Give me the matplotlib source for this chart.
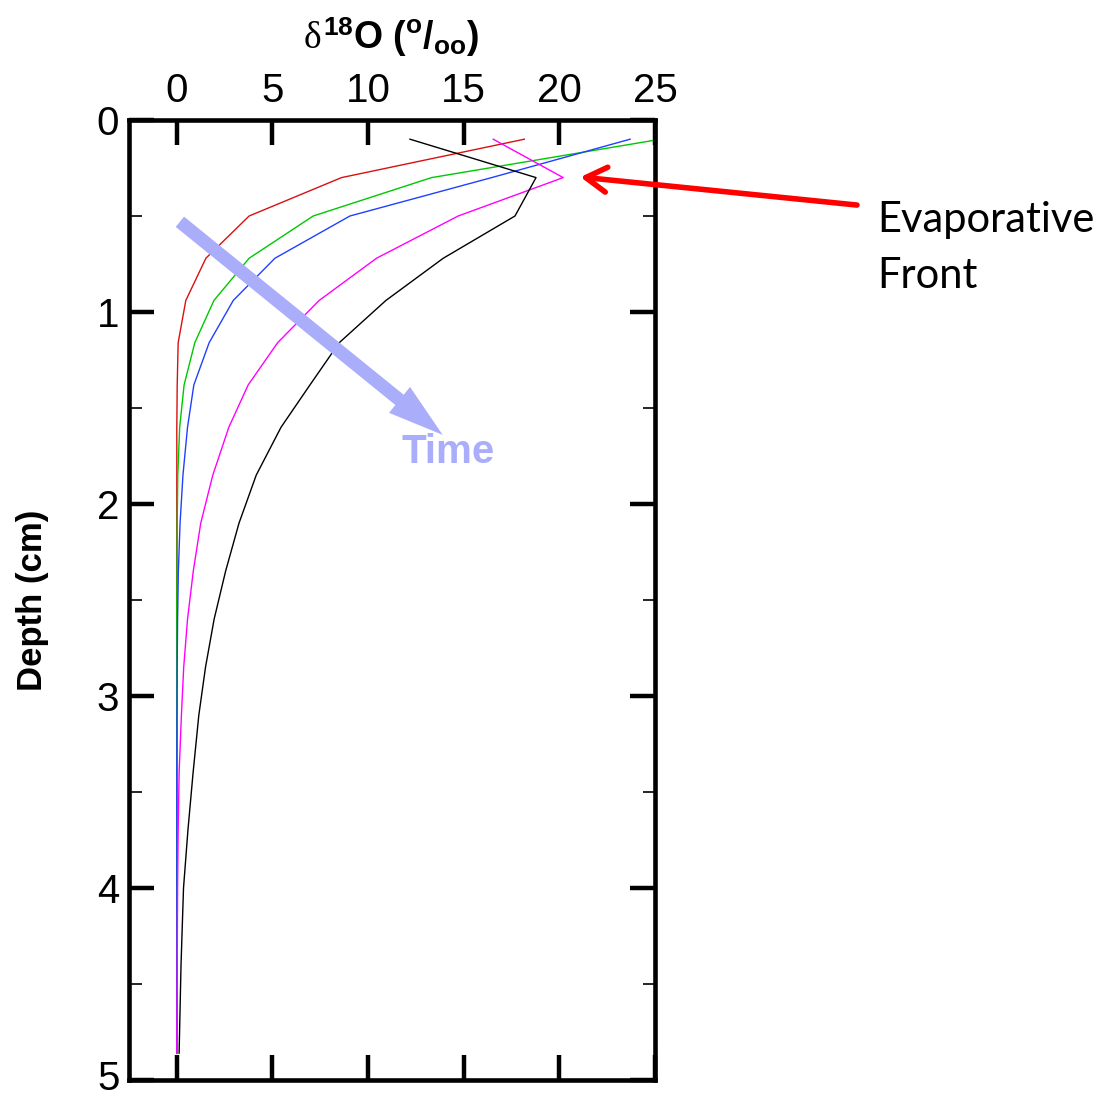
import numpy as np
import matplotlib
matplotlib.use("Agg")
import matplotlib.pyplot as plt
from matplotlib import font_manager
from matplotlib.transforms import ScaledTranslation

# data (depth in cm, delta-18O in permil)
depth = [0.1, 0.3, 0.5, 0.72, 0.94, 1.16, 1.38, 1.6, 1.85, 2.1, 2.35, 2.6,
         2.85, 3.1, 3.4, 3.7, 4.0, 4.4, 4.86]
d18o_red = [18.17, 8.61, 3.78, 1.52, 0.47, 0.07, 0.02, 0.0, 0.0, 0.0, 0.0, 0.0,
            0.0, 0.0, 0.0, 0.0, 0.0, 0.0, 0.0]
d18o_green = [25.3, 13.32, 7.13, 3.78, 1.94, 0.94, 0.38, 0.15, 0.05, 0.02, 0.01, 0.0,
              0.0, 0.0, 0.0, 0.0, 0.0, 0.0, 0.0]
d18o_blue = [23.7, 16.46, 9.05, 5.13, 2.95, 1.69, 0.89, 0.56, 0.32, 0.17, 0.08, 0.04,
             0.02, 0.01, 0.0, 0.0, 0.0, 0.0, 0.0]
d18o_magenta = [16.54, 20.2, 14.71, 10.44, 7.44, 5.27, 3.73, 2.72, 1.88, 1.25, 0.86, 0.56,
                0.36, 0.24, 0.12, 0.07, 0.04, 0.02, 0.0]
d18o_black = [12.19, 18.78, 17.68, 13.93, 10.93, 8.49, 6.96, 5.45, 4.15, 3.25, 2.55, 1.95,
              1.5, 1.15, 0.85, 0.58, 0.35, 0.22, 0.12]

series = [d18o_red, d18o_green, d18o_blue, d18o_magenta, d18o_black]
colors = ['#d81010', '#00c800', '#2040ff', '#ff00ff', '#000000']

x_ticks = [0, 5, 10, 15, 20, 25]
y_ticks = [0, 1, 2, 3, 4, 5]

# narrow sans for tick labels if it is there
names = {f.name for f in font_manager.fontManager.ttflist}
tick_font = 'Liberation Sans Narrow' if 'Liberation Sans Narrow' in names else 'Liberation Sans'

plt.rcParams['mathtext.fontset'] = 'custom'
plt.rcParams['mathtext.rm'] = 'Liberation Sans:bold'
plt.rcParams['mathtext.it'] = 'Liberation Serif'

fig = plt.figure(figsize=(11.2, 10.99), dpi=100)
ax = fig.add_axes([129 / 1120, 19 / 1099, 526 / 1120, 960 / 1099])

for vals, c in zip(series, colors):
    ax.plot(vals, depth, color=c, lw=1.0)

ax.set_xlim(-2.5, 25)
ax.set_ylim(5, 0)
ax.set_xticks(x_ticks)
ax.set_yticks(y_ticks)
ax.set_xticks(np.arange(-2.5, 25, 2.5)[1::2], minor=True)
ax.set_yticks(np.arange(0.5, 5, 1.0), minor=True)

for s in ax.spines.values():
    s.set_linewidth(3.3)

ax.tick_params(which='both', direction='in', top=True, bottom=True, left=True, right=True,
               labeltop=True, labelbottom=False, labelleft=True, labelright=False)
ax.tick_params(which='major', length=18, width=3.2, labelsize=29, pad=7)
ax.tick_params(which='minor', length=9, width=1.2)
for lab in ax.get_xticklabels() + ax.get_yticklabels():
    lab.set_fontfamily(tick_font)
# nudge the bottom "5" up a few pixels so it stays inside the canvas
last = ax.get_yticklabels()[-1]
last.set_transform(last.get_transform() + ScaledTranslation(0, 5 / 100, fig.dpi_scale_trans))

# axis titles
fig.text(391 / 1120, 1 - 37 / 1099, r'$\delta^{\mathrm{18}}\mathrm{O\ (^{o}/_{oo})}$',
         ha='center', va='center', fontsize=27)
fig.text(33 / 1120, 1 - 600 / 1099, 'Depth (cm)', rotation=90, ha='center', va='center',
         fontsize=25, fontweight='bold', family='Liberation Sans')

# time arrow
tcol = '#aaaefa'
ax.annotate('', xy=(13.9, 1.64), xytext=(0.16, 0.53),
            arrowprops=dict(arrowstyle='simple,head_length=40,head_width=24,tail_width=9.5',
                            mutation_scale=1, color=tcol, shrinkA=0, shrinkB=0, lw=0))
fig.text(448 / 1120, 1 - 452 / 1099, 'Time', ha='center', va='center', fontsize=29,
         fontweight='bold', color=tcol, family='Liberation Sans')

# evaporative front arrow and label
ax.annotate('', xy=(21.1, 0.297), xytext=(35.56, 0.443), annotation_clip=False,
            arrowprops=dict(arrowstyle='->,head_length=0.5,head_width=0.3', mutation_scale=30,
                            color='#ff0000', lw=4, shrinkA=0, shrinkB=0))
fig.text(877 / 1120, 1 - 232 / 1099, 'Evaporative', ha='left', va='baseline', fontsize=30,
         family='Lato')
fig.text(877 / 1120, 1 - 288 / 1099, 'Front', ha='left', va='baseline', fontsize=30,
         family='Lato')

fig.savefig('out.png', dpi=100)
